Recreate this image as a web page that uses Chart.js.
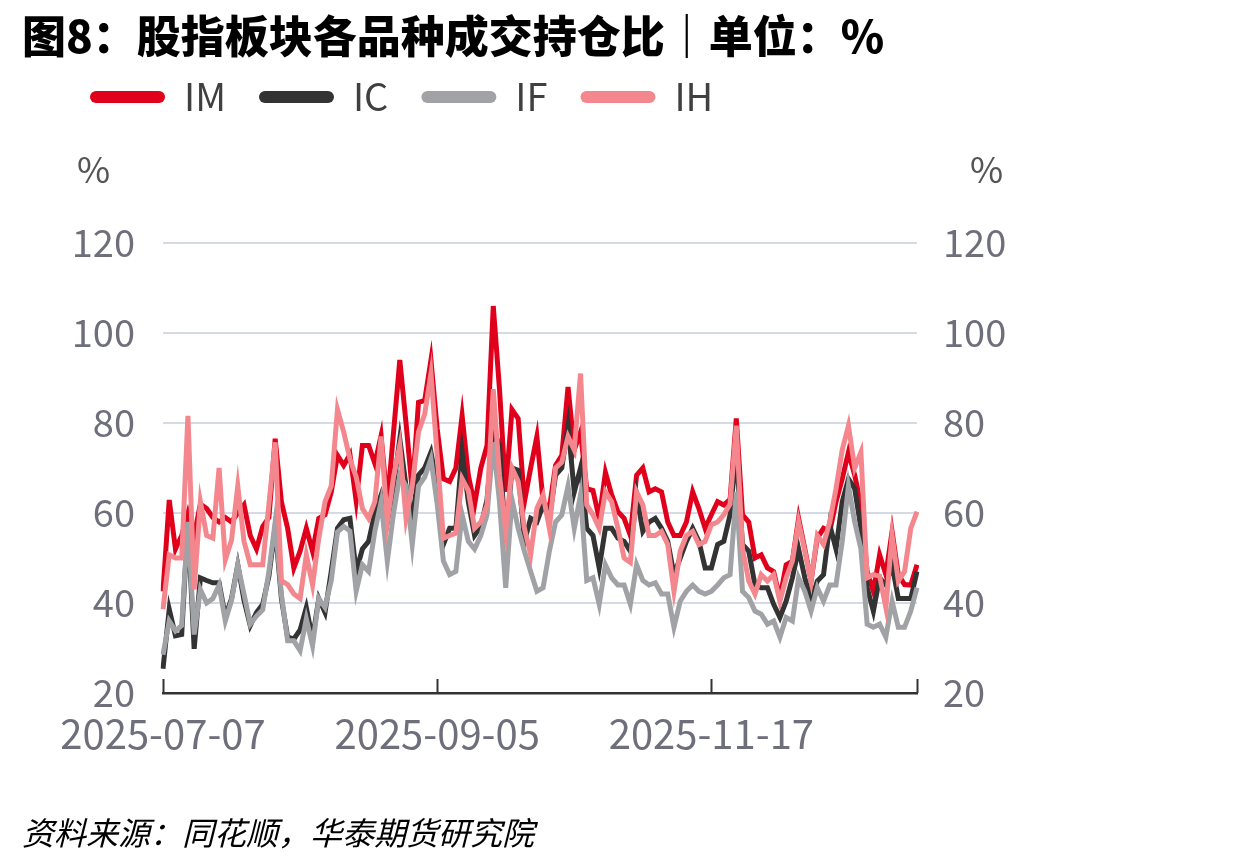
<!DOCTYPE html>
<html>
<head>
<meta charset="utf-8">
<script src="https://cdn.jsdelivr.net/npm/chart.js@4.4.1/dist/chart.umd.min.js"></script>
<style>
  html, body { margin: 0; padding: 0; background: #fff; }
  #wrap { position: relative; width: 1240px; height: 866px; overflow: hidden; }
  #title { position: absolute; left: 22px; top: 2px; font: 900 44px "Noto Sans CJK SC"; color: #000; white-space: nowrap; }
  .unit { position: absolute; top: 141px; font: 36px "Noto Sans CJK SC"; color: #555; }
  #source { position: absolute; left: 22px; top: 808px; font: italic 32px "Noto Sans CJK SC"; color: #000; white-space: nowrap; }
  canvas { position: absolute; left: 0; top: 0; }
</style>
</head>
<body>
<div id="wrap">
  <canvas id="chart" width="1240" height="866"></canvas>
  <div id="title">图8：股指板块各品种成交持仓比｜单位：%</div>
  <div class="unit" style="left:77px">%</div>
  <div class="unit" style="left:970px">%</div>
  <div id="source">资料来源：同花顺，华泰期货研究院</div>
</div>
<script>
// 成交持仓比, daily, 2025-07-07 onwards
const imData = [42.6, 62.9, 52, 55, 60, 55, 62, 61, 59, 58, 59, 58, 60, 61.8, 55, 52, 57, 59, 76.5, 62.5,
  56.6, 47.8, 51.5, 56.6, 51.5, 58.8, 59.6, 64.7, 72.8, 70.6, 73, 62.7, 75, 75, 71, 77.2, 62, 78, 94, 80,
  65, 84.6, 85, 94, 78.7, 67.6, 67, 70, 81.6, 68.4, 61.8, 70, 75, 106, 87.5, 64.7, 83, 81, 62.5, 70,
  77, 62.5, 61, 70.6, 72.8, 88, 74, 78, 65.4, 65, 58.8, 69, 64, 60.3, 58.8, 55, 68.4, 70, 64.7, 65.4,
  64.7, 58, 55, 55, 58, 64.7, 61, 56.6, 59.6, 62.5, 61.8, 63, 81, 59.6, 58, 50, 50.7, 47.8, 47, 41,
  48.5, 49.3, 58.8, 52, 44.9, 54.4, 56.6, 55.9, 62.5, 67.6, 73.5, 68.4, 61.8, 47, 42.6, 50.7, 46.3, 55.9, 46.3, 44.1,
  44, 48.5];
const icData = [25.4, 38.6, 32.7, 33, 58, 29.8, 45.6, 45, 44.5, 44.5, 37, 41, 48.5, 40.6, 35, 37.9, 39.7, 46, 57, 41,
  32.4, 32, 34, 39, 32, 41, 37.9, 47, 56.6, 58.5, 58.8, 47, 52, 53.7, 60, 64, 58, 66, 76.5, 66,
  58.8, 68.4, 70, 73.5, 66, 53, 56.6, 56.6, 73.5, 62.5, 55, 57, 63, 78.7, 75, 53, 70, 69.5, 53.7, 58.8,
  58, 61.8, 58.8, 68.4, 70, 79.4, 64.7, 70, 56.6, 55, 47.8, 56.6, 56.6, 54.4, 53.7, 51.5, 64, 55.9, 58, 58.8,
  56.6, 53.7, 46.3, 50, 53.7, 56.6, 53.7, 47.8, 47.8, 53, 53.7, 59.6, 73.5, 53, 51.5, 44, 43.4, 43.4, 39.7, 36.8,
  40.4, 45.6, 52, 45.6, 40.4, 44.9, 46.3, 57.4, 52, 62.5, 67.6, 65.4, 56.6, 43.4, 38.2, 45.6, 44, 48.5, 41, 41,
  41, 47];
const ifData = [28.5, 36, 33.8, 35, 58, 33, 43, 40, 41, 44, 36, 40.6, 48.5, 42, 35.3, 37.1, 38.5, 47, 58, 41.9,
  31.6, 31.6, 29.4, 36.5, 30.5, 41, 39, 45, 55.8, 57, 56, 42.6, 48.5, 47, 56, 62.5, 49.3, 60, 68.4, 66,
  53, 66, 68, 72, 62, 49.3, 46.3, 47, 59.6, 53.7, 52, 55, 59.6, 75.7, 62.5, 43.4, 63, 56.6, 51.5, 47,
  42.6, 43.4, 51.5, 58, 59.6, 66, 56.6, 64, 45, 45.6, 39.7, 48.5, 45.6, 44, 44, 39.7, 48.5, 45, 44, 44.5,
  42, 42, 34.6, 40.4, 42.6, 44, 42.6, 42, 42.6, 44, 45.6, 46.3, 64.7, 42.6, 41.2, 38.2, 37.5, 35.3, 36, 32.4,
  36.8, 36, 45.6, 42.6, 38.2, 43.4, 40.4, 44, 44, 53.7, 66, 58, 52, 35.3, 34.6, 35.3, 32.4, 40.4, 34.6, 34.6,
  38.2, 43.4];
const ihData = [38.6, 50.7, 50, 50, 81.6, 43, 62.5, 55, 54.4, 70, 49.6, 54, 66, 53.7, 48.5, 48.5, 48.5, 62, 75.7, 45,
  44.1, 42, 41, 50.7, 44, 54.4, 62.5, 66, 83, 78, 72, 68, 61, 58.8, 62.5, 77, 58, 68, 75, 58.8,
  66, 78, 82, 91, 72.8, 54.4, 55, 55.5, 67.6, 65, 56.6, 58, 61.8, 87.5, 68.4, 56, 70, 67, 56.6, 50.7,
  61, 64, 56.6, 70, 71.3, 77, 74, 91, 61.8, 59.6, 56.6, 64.7, 62.5, 56.6, 50, 49, 64.7, 61.8, 55, 55,
  55.9, 53, 42.6, 51.5, 55, 55.9, 53, 53.7, 57.4, 58, 59.6, 62, 79.4, 52, 44.9, 42, 46.3, 44.9, 46.3, 40.4,
  45.6, 49.3, 58, 51.5, 44.9, 55, 53, 58, 65.4, 74, 79.4, 70, 73.5, 45.6, 46.3, 46, 39, 55, 44.9, 47,
  56.6, 60.3];

const categories = imData.map((_, i) => i);
const tickIndex = [0, 44, 88];
const tickLabels = ['2025-07-07', '2025-09-05', '2025-11-17'];

const seriesNames = ['IM', 'IC', 'IF', 'IH'];
const seriesColors = ['#e0001b', '#333333', '#a0a2a6', '#f4878d'];
const seriesData = [imData, icData, ifData, ihData];
const drawOrder = [3, 2, 1, 0]; // IH on top

const tickColor = '#6e6f7b';
const font = 'Noto Sans CJK SC';

// push the plot down below the legend
const legendSpace = {
  id: 'legendSpace',
  beforeInit(chart) {
    const fit = chart.legend.fit;
    chart.legend.fit = function () {
      fit.call(this);
      this.height += 117;
    };
  }
};

// short upward tick marks on the date axis
const axisTicks = {
  id: 'axisTicks',
  afterDraw(chart) {
    const x = chart.scales.x;
    const bottom = chart.chartArea.bottom;
    const ctx = chart.ctx;
    ctx.save();
    ctx.strokeStyle = '#333';
    ctx.lineWidth = 2;
    tickIndex.concat([categories.length - 1]).forEach(i => {
      const px = Math.round(x.getPixelForValue(i)) + 0.5;
      ctx.beginPath();
      ctx.moveTo(px, bottom);
      ctx.lineTo(px, bottom - 14);
      ctx.stroke();
    });
    ctx.restore();
  }
};

new Chart(document.getElementById('chart'), {
  type: 'line',
  data: {
    labels: categories,
    datasets: seriesNames.map((name, k) => ({
      label: name,
      data: seriesData[k],
      borderColor: seriesColors[k],
      backgroundColor: seriesColors[k],
      borderWidth: 5,
      pointRadius: 0,
      tension: 0,
      order: drawOrder[k],
      yAxisID: 'y'
    }))
  },
  options: {
    responsive: false,
    animation: false,
    layout: { padding: { left: 57, right: 200, top: 45, bottom: 99 } },
    plugins: {
      tooltip: { enabled: false },
      legend: {
        position: 'top',
        align: 'start',
        labels: {
          boxWidth: 75,
          boxHeight: 12,
          useBorderRadius: true,
          borderRadius: 6,
          padding: 33,
          color: '#404040',
          font: { family: font, size: 38 },
          sort: (a, b) => a.datasetIndex - b.datasetIndex,
          generateLabels: chart => Chart.defaults.plugins.legend.labels.generateLabels(chart)
            .map(l => ({ ...l, lineWidth: 0 }))
        }
      }
    },
    scales: {
      x: {
        type: 'category',
        grid: { display: false },
        border: { display: true, color: '#333', width: 2.5 },
        ticks: {
          autoSkip: false,
          maxRotation: 0,
          minRotation: 0,
          padding: 9,
          color: tickColor,
          font: { family: font, size: 40 },
          callback: (v, i) => {
            const k = tickIndex.indexOf(i);
            return k >= 0 ? tickLabels[k] : '';
          }
        }
      },
      y: {
        position: 'left',
        min: 20,
        max: 120,
        afterFit: s => { s.width = 106; },
        border: { display: false },
        grid: {
          drawTicks: false,
          lineWidth: 2,
          color: c => c.tick && c.tick.value === 20 ? 'rgba(0,0,0,0)' : '#d6dae5'
        },
        ticks: { stepSize: 20, padding: 28, color: tickColor, font: { family: font, size: 38 } }
      },
      y2: {
        position: 'right',
        min: 20,
        max: 120,
        afterFit: s => { s.width = 123; },
        border: { display: false },
        grid: { display: false, drawTicks: false },
        ticks: { stepSize: 20, padding: 26, color: tickColor, font: { family: font, size: 38 } }
      }
    }
  },
  plugins: [legendSpace, axisTicks]
});
</script>
</body>
</html>
